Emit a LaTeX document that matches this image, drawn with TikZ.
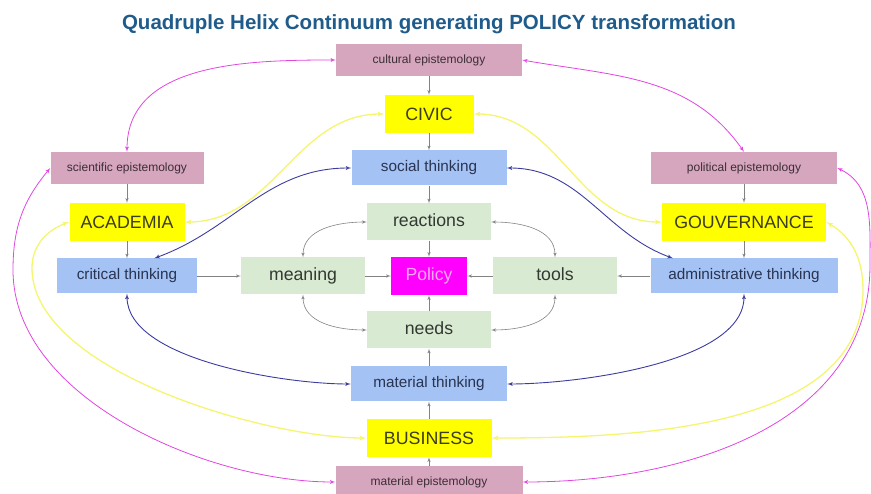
\documentclass[tikz,border=0pt]{standalone}
\usepackage{fontspec}
\setmainfont{Liberation Sans}
\usepackage{tikz}
\usetikzlibrary{shapes,arrows}
\definecolor{epiPink}{RGB}{213,166,189}
\definecolor{thinkBlue}{RGB}{164,194,244}
\definecolor{coreGreen}{RGB}{217,234,211}
\definecolor{helixYellow}{RGB}{255,255,0}
\definecolor{policyMagenta}{RGB}{255,0,255}
\definecolor{policyText}{RGB}{244,172,244}
\definecolor{titleBlue}{RGB}{31,92,139}
\definecolor{epiText}{RGB}{60,45,55}
\definecolor{thinkText}{RGB}{40,52,82}
\definecolor{coreText}{RGB}{50,56,50}
\definecolor{helixText}{RGB}{60,60,30}
\definecolor{pinkLink}{RGB}{225,70,225}
\definecolor{yellowLink}{RGB}{245,245,110}
\definecolor{navyLink}{RGB}{60,60,160}
\definecolor{greyLink}{RGB}{130,130,130}
\tikzstyle{epistemology} = [rectangle, fill=epiPink, text=epiText, font=\fontsize{12}{14}\selectfont, minimum height=32pt, inner sep=0pt]
\tikzstyle{helix} = [rectangle, fill=helixYellow, text=helixText, font=\fontsize{17.8}{20}\selectfont, minimum height=38pt, inner sep=0pt]
\tikzstyle{thinking} = [rectangle, fill=thinkBlue, text=thinkText, font=\fontsize{15.3}{18}\selectfont, minimum height=35pt, inner sep=0pt]
\tikzstyle{core} = [rectangle, fill=coreGreen, text=coreText, font=\fontsize{17.7}{20}\selectfont, text height=13pt, text depth=4pt, minimum width=124pt, minimum height=37pt, inner sep=0pt]
\tikzstyle{policy} = [rectangle, fill=policyMagenta, text=policyText, font=\fontsize{17.6}{20}\selectfont, text height=13pt, text depth=4pt, minimum width=76pt, minimum height=38pt, inner sep=0pt]
\tikzstyle{heading} = [text=titleBlue, font=\bfseries\fontsize{20.5}{24}\selectfont]
\tikzstyle{line} = [draw=greyLink, line width=0.6pt, -latex']
\tikzstyle{twoway} = [draw=greyLink, line width=0.6pt, latex'-latex']
\tikzstyle{pinkline} = [draw=pinkLink, line width=0.8pt, latex'-latex']
\tikzstyle{yellowline} = [draw=yellowLink, line width=1.3pt, latex'-latex']
\tikzstyle{navyline} = [draw=navyLink, line width=0.9pt, latex'-latex']
\begin{document}
\begin{tikzpicture}[x=1pt, y=-1pt, node distance=54pt]
	\useasboundingbox (0,0) rectangle (871,494);
	\node[policy] (policy) at (429,276) {Policy};
	\node[core, above of=policy] (reactions) {reactions};
	\node[core, below of=policy] (needs) {needs};
	\node[core, node distance=126pt, left of=policy] (meaning) {meaning};
	\node[core, node distance=126pt, right of=policy] (tools) {tools};
	\node[thinking, minimum width=155pt, above of=reactions] (social) {social thinking};
	\node[helix, minimum width=89pt, above of=social] (civic) {CIVIC};
	\node[epistemology, minimum width=186pt, above of=civic] (cultural) {cultural epistemology};
	\node[heading, node distance=36pt, above of=cultural] (heading) {Quadruple Helix Continuum generating POLICY transformation};
	\node[thinking, minimum width=156pt, below of=needs] (matthink) {material thinking};
	\node[helix, minimum width=125pt, below of=matthink] (business) {BUSINESS};
	\node[epistemology, minimum width=187pt, node distance=44pt, below of=business] (matepi) {material epistemology};
	\node[thinking, minimum width=140pt, node distance=176pt, left of=meaning] (critical) {critical thinking};
	\node[helix, minimum width=115pt, above of=critical] (academia) {ACADEMIA};
	\node[epistemology, minimum width=153pt, above of=academia] (scientific) {scientific epistemology};
	\node[thinking, minimum width=187pt, node distance=189pt, right of=tools] (admin) {administrative thinking};
	\node[helix, minimum width=164pt, above of=admin] (gouv) {GOUVERNANCE};
	\node[epistemology, minimum width=186pt, above of=gouv] (political) {political epistemology};
	\coordinate (rimPinkL) at (13,270);
	\coordinate (rimPinkR) at (870,265);
	\coordinate (rimYellowL) at (32,268);
	\coordinate (rimYellowR) at (863,290);

	% straight grey arrows
	\path[line] (cultural) -- (civic);
	\path[line] (civic) -- (social);
	\path[line] (social) -- (reactions);
	\path[line] (reactions) -- (policy);
	\path[line] (needs) -- (policy);
	\path[line] (matthink) -- (needs);
	\path[line] (business) -- (matthink);
	\path[line] (matepi) -- (business);
	\path[line] (scientific) -- (academia);
	\path[line] (academia) -- (critical);
	\path[line] (critical) -- (meaning);
	\path[line] (meaning) -- (policy);
	\path[line] (political) -- (gouv);
	\path[line] (gouv) -- (admin);
	\path[line] (admin) -- (tools);
	\path[line] (tools) -- (policy);
	\path[twoway] (reactions.west) to[out=180,in=90] (meaning.north);
	\path[twoway] (reactions.east) to[out=0,in=90] (tools.north);
	\path[twoway] (meaning.south) to[out=-90,in=180] (needs.west);
	\path[twoway] (tools.south) to[out=-90,in=0] (needs.east);

	% helix links
	\path[pinkline] (scientific.north) to[out=90,in=180] (cultural.west);
	\path[pinkline] (cultural.east) to[out=-10,in=125] (political.north);
	\path[pinkline] (scientific.west) to[out=230,in=90] (rimPinkL) to[out=-90,in=180,looseness=0.85] (matepi.west);
	\path[pinkline] (political.east) to[out=-25,in=90] (rimPinkR) to[out=-90,in=0] (matepi.east);
	\path[yellowline] (civic.west) to[out=180,in=0] (academia.east);
	\path[yellowline] (civic.east) to[out=0,in=180] (gouv.west);
	\path[yellowline] (academia.west) to[out=200,in=90] (rimYellowL) to[out=-90,in=180,looseness=0.7] (business.west);
	\path[yellowline] (gouv.east) to[out=-30,in=90] (rimYellowR) to[out=-90,in=0,looseness=0.9] (business.east);
	\path[navyline] (social.west) to[out=180,in=20] (critical.33);
	\path[navyline] (social.east) to[out=0,in=160] (admin.166);
	\path[navyline] (critical.south) to[out=-90,in=180,looseness=0.7] (matthink.west);
	\path[navyline] (admin.south) to[out=-90,in=0,looseness=0.7] (matthink.east);
\end{tikzpicture}
\end{document}
